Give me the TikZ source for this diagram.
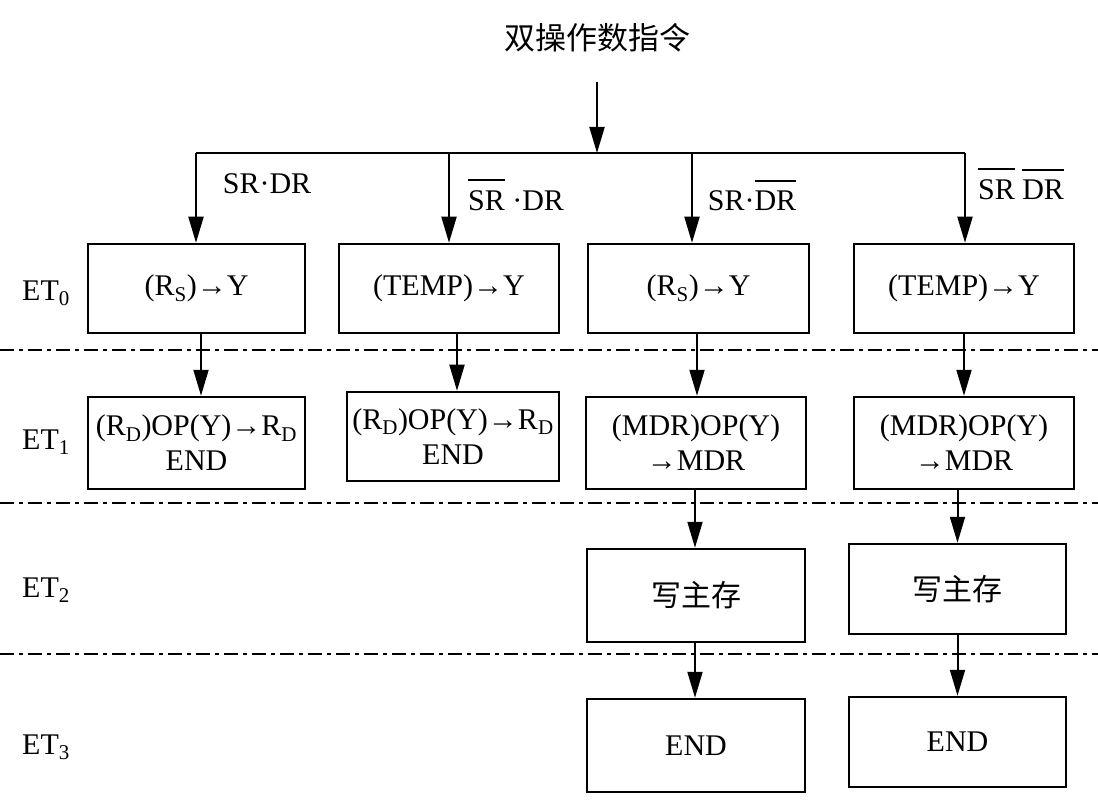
\documentclass[tikz,border=0pt]{standalone}
\usepackage{fontspec}
\setmainfont{Liberation Serif}
\newfontfamily\cjk{Noto Sans CJK SC}
\usetikzlibrary{arrows.meta}
\newcommand\olin[1]{\setbox0\hbox{#1}\rlap{\raisebox{\dimexpr\ht0+9pt\relax}{\rule{\wd0}{2pt}}}\box0\relax}
\begin{document}
\begin{tikzpicture}[x=1pt,y=-1pt,
  box/.style={draw, line width=2.5pt, inner sep=0pt, align=center, font=\fontsize{30}{35}\selectfont},
  arr/.style={line width=2pt, -{Triangle[length=26pt,width=15pt]}},
  lbl/.style={font=\fontsize{30}{35}\selectfont, inner sep=0pt},
  etl/.style={font=\fontsize{30}{35}\selectfont, inner sep=0pt, anchor=west},
  sepline/.style={line width=2pt, dash pattern=on 14pt off 5pt on 4pt off 5pt}]
\useasboundingbox (0,0) rectangle (1098,802);
\fill[white] (0,0) rectangle (1098,802);

% title
\node[lbl, font=\cjk\fontsize{31}{35}\selectfont] (title) at (597,38) {双操作数指令};
\coordinate (top) at (597,82);
\coordinate (bus) at (597,153);
\coordinate (busL) at (196,153);
\coordinate (busR) at (965,153);

% row 1
\node[box, minimum width=217pt, minimum height=89pt] (b11) at (196.5,288.5) {(R\textsubscript{S})→Y};
\node[box, minimum width=220pt, minimum height=89pt] (b12) at (449,288.5) {(TEMP)→Y};
\node[box, minimum width=221pt, minimum height=89pt] (b13) at (698.5,288.5) {(R\textsubscript{S})→Y};
\node[box, minimum width=220pt, minimum height=89pt] (b14) at (964,288.5) {(TEMP)→Y};

% row 2
\node[box, minimum width=217pt, minimum height=92pt] (b21) at (196.5,443) {(R\textsubscript{D})OP(Y)→R\textsubscript{D}\\END};
\node[box, minimum width=212pt, minimum height=89pt] (b22) at (453,436.5) {(R\textsubscript{D})OP(Y)→R\textsubscript{D}\\END};
\node[box, minimum width=220pt, minimum height=92pt] (b23) at (696,443) {(MDR)OP(Y)\\→MDR};
\node[box, minimum width=220pt, minimum height=92pt] (b24) at (964,443) {(MDR)OP(Y)\\→MDR};

% row 3
\node[box, minimum width=218pt, minimum height=93pt, font=\cjk\fontsize{30}{35}\selectfont] (b33) at (696,595.5) {写主存};
\node[box, minimum width=217pt, minimum height=90pt, font=\cjk\fontsize{30}{35}\selectfont] (b34) at (957.5,589) {写主存};

% row 4
\node[box, minimum width=218pt, minimum height=93pt] (b43) at (696,745.5) {END};
\node[box, minimum width=217pt, minimum height=90pt] (b44) at (957.5,742) {END};

% condition labels
\node[lbl] (c1) at (267,184) {SR·DR};
\node[lbl] (c2) at (516,195) {\olin{SR} ·DR};
\node[lbl] (c3) at (752,195) {SR·\olin{DR}};
\node[lbl] (c4) at (1021,184) {\olin{SR} \olin{DR}};

% ET labels
\node[etl] (et0) at (22,293) {ET\textsubscript{0}};
\node[etl] (et1) at (22,442) {ET\textsubscript{1}};
\node[etl] (et2) at (22,590) {ET\textsubscript{2}};
\node[etl] (et3) at (22,747) {ET\textsubscript{3}};

% separators
\draw[sepline] (0,350) -- (1098,350);
\draw[sepline] (0,503) -- (1098,503);
\draw[sepline] (0,654) -- (1098,654);

% connectors
\draw[arr] (top) -- (bus);
\draw[line width=2pt] (busL) -- (busR);
\draw[arr] (busL) -- (busL |- b11.north);
\draw[arr] (bus -| b12.north) -- (b12.north);
\draw[arr] ([xshift=-6.5pt]bus -| b13.north) -- ([xshift=-6.5pt]b13.north);
\draw[arr] (busR) -- (busR |- b14.north);

\draw[arr] ([xshift=4.5pt]b11.south) -- ([xshift=4.5pt]b11.south |- b21.north);
\draw[arr] ([xshift=8pt]b12.south) -- ([xshift=8pt]b12.south |- b22.north);
\draw[arr] ([xshift=-1.5pt]b13.south) -- ([xshift=-1.5pt]b13.south |- b23.north);
\draw[arr] (b14.south) -- (b24.north);

\draw[arr] ([xshift=-1pt]b23.south) -- ([xshift=-1pt]b23.south |- b33.north);
\draw[arr] (b34.north |- b24.south) -- (b34.north);
\draw[arr] ([xshift=-1pt]b33.south) -- ([xshift=-1pt]b43.north);
\draw[arr] (b34.south) -- (b44.north);
\end{tikzpicture}
\end{document}
